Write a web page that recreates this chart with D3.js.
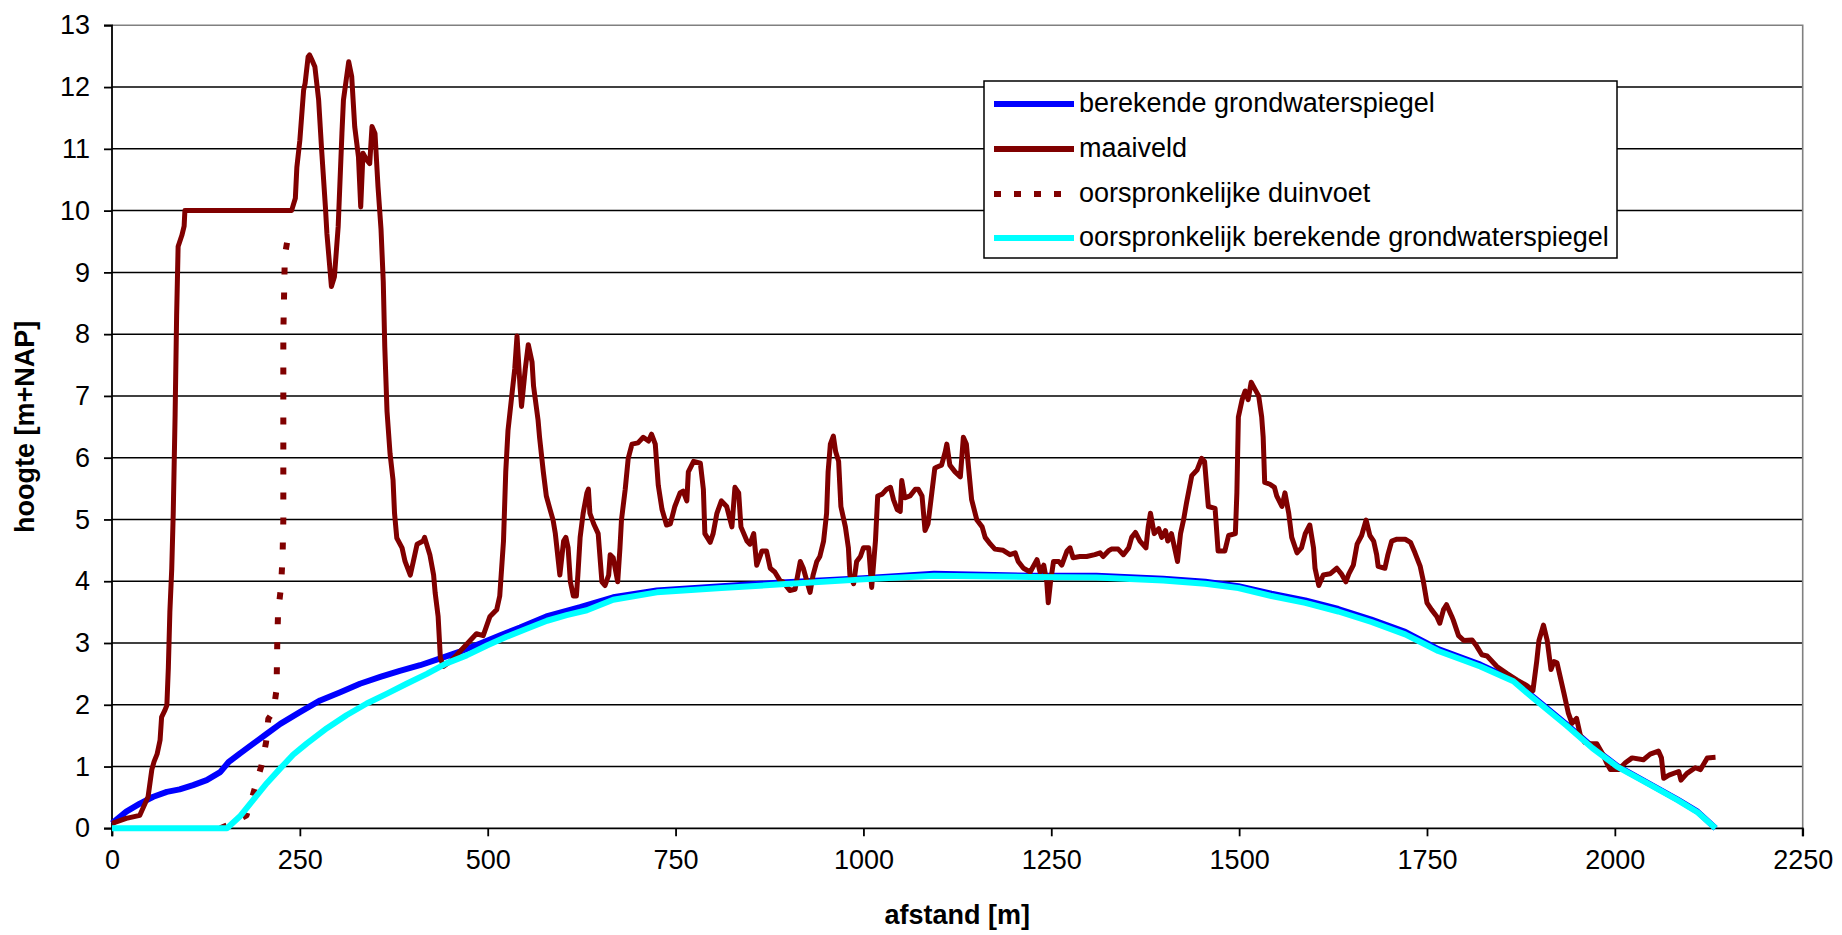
<!DOCTYPE html>
<html>
<head>
<meta charset="utf-8">
<script src="https://cdn.jsdelivr.net/npm/d3@7"></script>
<style>
  html, body { margin: 0; padding: 0; background: #fff; }
  svg { display: block; font-family: "Liberation Sans", Arial, sans-serif; }
</style>
</head>
<body>
<svg id="chart" width="1842" height="935"></svg>
<script>
// ---- data (afstand [m], hoogte [m+NAP]) ----
const xTicks = [0, 250, 500, 750, 1000, 1250, 1500, 1750, 2000, 2250];
const yTicks = [0, 1, 2, 3, 4, 5, 6, 7, 8, 9, 10, 11, 12, 13];

const legendLabels = [
  "berekende grondwaterspiegel",
  "maaiveld",
  "oorspronkelijke duinvoet",
  "oorspronkelijk berekende grondwaterspiegel"
];

const berekend = [
  [0,0.08],[19,0.27],[37,0.40],[55,0.51],[73,0.59],[90,0.63],[108,0.70],[126,0.78],[144,0.91],[155,1.07],
  [170,1.21],[188,1.37],[206,1.53],[224,1.69],[250,1.88],[277,2.07],[303,2.20],[330,2.34],[357,2.45],[383,2.55],
  [410,2.64],[437,2.75],[463,2.86],[490,2.99],[516,3.12],[543,3.25],[578,3.43],[623,3.58],[667,3.74],[725,3.85],
  [811,3.92],[891,3.98],[1000,4.05],[1094,4.12],[1222,4.09],[1310,4.09],[1399,4.04],[1455,3.99],[1499,3.92],
  [1543,3.80],[1588,3.69],[1632,3.55],[1676,3.38],[1721,3.18],[1765,2.90],[1821,2.65],[1865,2.40],[1892,2.12],
  [1936,1.68],[1970,1.32],[2003,1.01],[2043,0.74],[2083,0.47],[2110,0.27],[2134,0.0]
];

const maaiveld = [
  [0,0.08],[19,0.16],[37,0.21],[44,0.40],[48,0.51],[53,0.95],[56,1.08],[60,1.20],[64,1.43],[66,1.80],[70,1.90],
  [73,1.99],[75,2.6],[77,3.5],[79.5,4.2],[81.5,5.1],[84,6.7],[86,8.3],[88,9.42],[93,9.6],[96,9.75],[97,10.0],
  [239,10.0],[244,10.2],[246,10.7],[250,11.14],[255,11.95],[257,12.06],[261,12.49],[263,12.52],[266,12.44],
  [270,12.33],[275,11.79],[279,10.98],[284,10.06],[286,9.63],[292,8.77],[296,8.93],[301,9.74],[306,11.25],
  [308,11.79],[315,12.41],[319,12.17],[323,11.36],[328,10.87],[331,10.06],[334,10.93],[339,10.82],[343,10.76],
  [346,11.36],[350,11.25],[354,10.39],[358,9.7],[361,8.85],[363,7.80],[366,6.75],[370,6.07],[374,5.64],[376,5.10],
  [379,4.70],[386,4.54],[390,4.32],[397,4.10],[401,4.32],[406,4.60],[414,4.65],[416,4.71],[423,4.43],[428,4.10],
  [430,3.82],[434,3.43],[437,2.76],[441,2.62],[450,2.70],[459,2.81],[472,2.98],[485,3.15],[494,3.12],[503,3.43],
  [512,3.54],[516,3.76],[521,4.65],[524,5.77],[527,6.44],[532,7.00],[536,7.44],[539,7.97],[543,7.16],[545,6.83],
  [550,7.44],[554,7.83],[559,7.55],[561,7.16],[567,6.61],[569,6.33],[574,5.77],[578,5.38],[583,5.16],[587,4.99],
  [590,4.77],[596,4.10],[601,4.65],[604,4.71],[607,4.54],[610,3.99],[614,3.76],[618,3.76],[620,4.10],[623,4.71],
  [627,5.10],[632,5.43],[634,5.49],[636,5.10],[641,4.93],[647,4.77],[652,3.99],[656,3.93],[661,4.10],[663,4.43],
  [667,4.38],[673,3.99],[676,4.54],[678,4.99],[683,5.49],[687,5.99],[692,6.22],[700,6.24],[707,6.33],[714,6.27],
  [718,6.38],[723,6.22],[727,5.55],[732,5.16],[738,4.91],[743,4.93],[749,5.21],[756,5.43],[760,5.46],[765,5.30],
  [767,5.77],[774,5.94],[783,5.91],[787,5.49],[789,4.77],[796,4.63],[800,4.77],[805,5.10],[811,5.30],[818,5.21],
  [825,4.88],[829,5.52],[834,5.43],[837,4.88],[845,4.65],[849,4.60],[854,4.77],[858,4.26],[865,4.49],[871,4.49],
  [876,4.21],[882,4.15],[889,4.01],[893,3.99],[902,3.85],[909,3.87],[916,4.32],[920,4.21],[925,3.99],[929,3.82],
  [933,4.10],[938,4.32],[942,4.40],[947,4.65],[951,5.10],[953,5.77],[956,6.22],[960,6.35],[963,6.10],[967,5.94],
  [970,5.21],[976,4.88],[980,4.54],[982,4.10],[987,3.96],[991,4.32],[996,4.40],[1000,4.54],[1007,4.54],[1011,3.90],
  [1016,4.65],[1019,5.38],[1025,5.41],[1031,5.49],[1036,5.52],[1040,5.32],[1045,5.16],[1049,5.13],[1051,5.63],
  [1055,5.35],[1062,5.38],[1069,5.49],[1073,5.49],[1078,5.38],[1082,4.82],[1086,4.93],[1091,5.43],[1095,5.83],
  [1098,5.85],[1104,5.88],[1109,6.10],[1111,6.22],[1115,5.88],[1122,5.77],[1129,5.69],[1133,6.33],[1137,6.22],
  [1140,5.83],[1144,5.32],[1151,4.99],[1158,4.88],[1162,4.71],[1169,4.60],[1175,4.52],[1186,4.50],[1195,4.43],
  [1202,4.46],[1206,4.32],[1213,4.21],[1222,4.15],[1231,4.35],[1235,4.15],[1240,4.26],[1244,3.99],[1246,3.65],
  [1249,3.99],[1253,4.32],[1260,4.32],[1264,4.26],[1271,4.49],[1275,4.54],[1279,4.38],[1288,4.40],[1297,4.40],
  [1308,4.43],[1315,4.46],[1319,4.40],[1326,4.49],[1330,4.52],[1339,4.52],[1346,4.43],[1353,4.54],[1357,4.71],
  [1362,4.79],[1368,4.65],[1376,4.54],[1379,4.88],[1382,5.10],[1387,4.77],[1393,4.85],[1397,4.71],[1402,4.82],
  [1405,4.65],[1410,4.77],[1415,4.49],[1418,4.32],[1422,4.77],[1426,4.99],[1430,5.27],[1437,5.71],[1444,5.80],
  [1450,5.99],[1454,5.94],[1459,5.21],[1468,5.18],[1472,4.49],[1481,4.49],[1486,4.74],[1495,4.77],[1497,5.43],
  [1499,6.66],[1504,6.94],[1508,7.08],[1512,6.94],[1516,7.22],[1521,7.11],[1526,7.00],[1530,6.66],[1532,6.33],
  [1534,5.60],[1541,5.57],[1547,5.52],[1550,5.38],[1557,5.21],[1561,5.43],[1566,5.10],[1570,4.71],[1577,4.46],
  [1583,4.54],[1588,4.77],[1594,4.91],[1599,4.54],[1601,4.21],[1606,3.93],[1612,4.10],[1621,4.12],[1630,4.21],
  [1636,4.12],[1642,3.99],[1646,4.12],[1652,4.26],[1657,4.60],[1663,4.74],[1669,4.99],[1674,4.74],[1679,4.65],
  [1683,4.43],[1685,4.24],[1694,4.21],[1698,4.43],[1703,4.65],[1710,4.68],[1721,4.68],[1728,4.63],[1734,4.46],
  [1741,4.24],[1745,4.01],[1750,3.65],[1756,3.54],[1763,3.43],[1767,3.32],[1772,3.54],[1776,3.62],[1783,3.43],
  [1785,3.37],[1792,3.12],[1799,3.04],[1810,3.05],[1816,2.95],[1823,2.81],[1830,2.79],[1843,2.62],[1856,2.51],
  [1870,2.40],[1883,2.31],[1891,2.23],[1896,2.70],[1899,3.04],[1905,3.29],[1910,3.04],[1915,2.57],[1919,2.70],
  [1923,2.68],[1932,2.20],[1938,1.87],[1943,1.70],[1949,1.78],[1954,1.51],[1960,1.39],[1967,1.37],[1976,1.37],
  [1984,1.20],[1989,1.06],[1994,0.95],[2005,0.95],[2014,1.06],[2023,1.14],[2038,1.11],[2047,1.20],[2058,1.25],
  [2062,1.14],[2065,0.81],[2072,0.86],[2085,0.92],[2088,0.78],[2096,0.89],[2107,0.98],[2114,0.95],[2123,1.14],
  [2134,1.15]
];

const duinvoet = [
  [144,0.0],[160,0.08],[179,0.21],[188,0.56],[199,1.02],[205,1.39],[208,1.77],[215,1.90],[219,2.25],[220,3.06],
  [221,3.49],[225,3.92],[227,4.4],[228,5.0],[228,8.0],[230,9.27],[235,9.63]
];

const oorspronkelijk = [
  [0,0.0],[153,0.0],[170,0.19],[188,0.46],[206,0.73],[224,0.97],[241,1.19],[259,1.37],[286,1.62],[312,1.83],
  [339,2.02],[366,2.18],[392,2.34],[419,2.50],[445,2.67],[472,2.80],[499,2.96],[525,3.10],[552,3.23],[579,3.36],
  [605,3.45],[632,3.53],[667,3.70],[725,3.82],[811,3.89],[891,3.95],[1000,4.03],[1094,4.09],[1222,4.07],
  [1310,4.06],[1399,4.01],[1455,3.96],[1499,3.89],[1543,3.76],[1588,3.65],[1632,3.51],[1676,3.34],[1721,3.14],
  [1765,2.87],[1821,2.62],[1865,2.38],[1892,2.10],[1936,1.66],[1970,1.30],[2003,1.00],[2043,0.73],[2083,0.46],
  [2110,0.26],[2134,0.0]
];

// ---- layout ----
const svg = d3.select("#chart");
const pLeft = 112, pRight = 1802.7, pTop = 25.3, pBottom = 828.3;
const x = d3.scaleLinear().domain([0, 2250]).range([pLeft, pRight]);
const y = d3.scaleLinear().domain([0, 13]).range([pBottom, pTop]);
const FONT = 27;

// gridlines
svg.append("g").selectAll("line").data(yTicks.filter(t => t > 0 && t < 13)).join("line")
  .attr("x1", pLeft).attr("x2", pRight)
  .attr("y1", d => y(d)).attr("y2", d => y(d))
  .attr("stroke", "#000").attr("stroke-width", 1.5);

// plot border (top / right)
svg.append("path")
  .attr("d", `M${pLeft},${pTop}H${pRight}V${pBottom}`)
  .attr("fill", "none").attr("stroke", "#808080").attr("stroke-width", 1.6);

// axes
const yAxis = d3.axisLeft(y).tickValues(yTicks).tickSize(8).tickPadding(14).tickFormat(d3.format("d"));
const gy = svg.append("g").attr("transform", `translate(${pLeft},0)`).call(yAxis);
const xAxis = d3.axisBottom(x).tickValues(xTicks).tickSize(8).tickPadding(14).tickFormat(d3.format("d"));
const gx = svg.append("g").attr("transform", `translate(0,${pBottom})`).call(xAxis);
[gy, gx].forEach(g => {
  g.select(".domain").attr("stroke", "#000").attr("stroke-width", 1.8);
  g.selectAll(".tick line").attr("stroke", "#000").attr("stroke-width", 1.8);
  g.selectAll(".tick text").attr("font-size", FONT).attr("fill", "#000")
    .attr("font-family", "'Liberation Sans', Arial, sans-serif");
});
gy.select(".domain").attr("d", `M-8,${pBottom}H0V${pTop}H-8`);
gx.select(".domain").attr("d", `M${pLeft},8V0H${pRight}V8`);

// axis titles
svg.append("text").attr("x", (pLeft + pRight) / 2).attr("y", 924)
  .attr("text-anchor", "middle").attr("font-size", FONT).attr("font-weight", "bold")
  .text("afstand [m]");
svg.append("text").attr("transform", `translate(34,${(pTop + pBottom) / 2}) rotate(-90)`)
  .attr("text-anchor", "middle").attr("font-size", FONT).attr("font-weight", "bold")
  .text("hoogte [m+NAP]");

// series
const line = d3.line().x(d => x(d[0])).y(d => y(d[1]));
const series = [
  { data: berekend, color: "#0000ff", width: 6, dash: null },
  { data: maaiveld, color: "#800000", width: 5, dash: null },
  { data: duinvoet, color: "#800000", width: 6, dash: "7,18" },
  { data: oorspronkelijk, color: "#00ffff", width: 6, dash: null }
];
svg.append("g").selectAll("path").data(series).join("path")
  .attr("d", s => line(s.data))
  .attr("fill", "none")
  .attr("stroke", s => s.color)
  .attr("stroke-width", s => s.width)
  .attr("stroke-linejoin", "round")
  .attr("stroke-dasharray", s => s.dash);

// legend
const lg = svg.append("g");
lg.append("rect").attr("x", 984).attr("y", 81).attr("width", 633).attr("height", 177)
  .attr("fill", "#fff").attr("stroke", "#000").attr("stroke-width", 1.5);
const rowY = [104, 149, 194, 238];
const items = lg.selectAll("g.item").data(series).join("g").attr("class", "item");
items.append("line")
  .attr("x1", 994).attr("x2", 1074)
  .attr("y1", (d, i) => rowY[i]).attr("y2", (d, i) => rowY[i])
  .attr("stroke", d => d.color).attr("stroke-width", 6)
  .attr("stroke-dasharray", d => d.dash ? "7,13" : null);
items.append("text")
  .attr("x", 1079).attr("y", (d, i) => rowY[i] + 8)
  .attr("font-size", FONT).attr("fill", "#000")
  .text((d, i) => legendLabels[i]);
</script>
</body>
</html>
